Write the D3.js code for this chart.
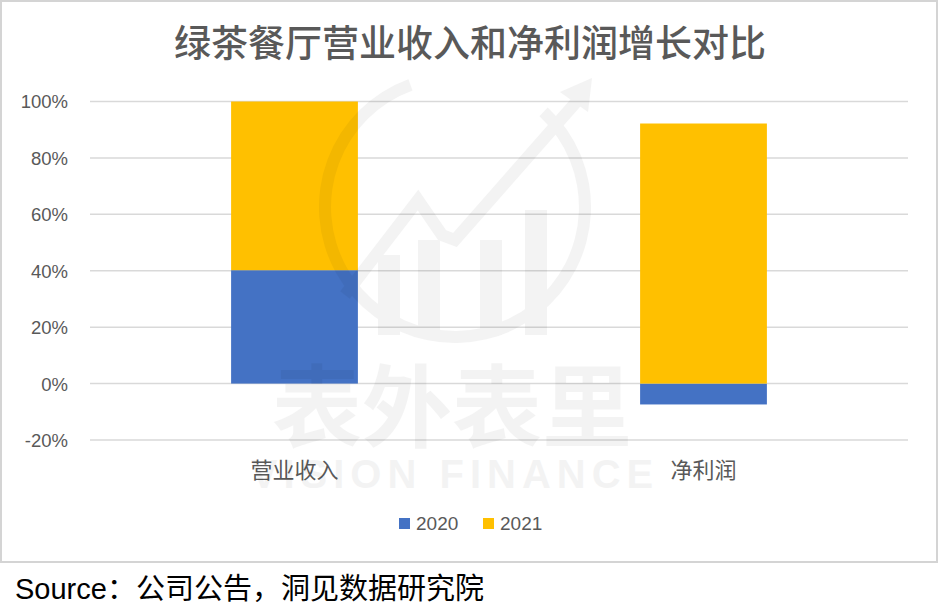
<!DOCTYPE html>
<html>
<head>
<meta charset="utf-8">
<script src="https://cdn.jsdelivr.net/npm/d3@7/dist/d3.min.js"></script>
<style>
  html, body { margin: 0; padding: 0; background: #fff; }
  svg { display: block; }
</style>
</head>
<body>
<svg id="chart" width="938" height="614"></svg>
<script>
// Categories, series and tick labels
const categories = ["营业收入", "净利润"];
const seriesNames = ["2020", "2021"];
const values2020 = [0.402, -0.074];
const values2021 = [0.598, 0.922];
const tickValues = [-0.2, 0, 0.2, 0.4, 0.6, 0.8, 1.0];
const colors = ["#4472C4", "#FFC000"];

const W = 938, H = 614;
const svg = d3.select("#chart");
const cjk = "'Noto Sans CJK SC', 'Microsoft YaHei', sans-serif";
const latin = "'Liberation Sans', Arial, 'Noto Sans CJK SC', sans-serif";

// outer chart frame
svg.append("rect")
  .attr("x", 1).attr("y", 1).attr("width", W - 2).attr("height", 561)
  .attr("fill", "#fff").attr("stroke", "#d4d4d4").attr("stroke-width", 2);

// plot scales
const x = d3.scaleBand().domain(categories).range([90, 908]).paddingInner(0.69).paddingOuter(0.345);
const y = d3.scaleLinear().domain([-0.2, 1.0]).range([440, 101.5]);

// gridlines
svg.append("g").selectAll("line").data(tickValues).join("line")
  .attr("x1", 90).attr("x2", 908)
  .attr("y1", d => y(d)).attr("y2", d => y(d))
  .attr("stroke", "#d9d9d9").attr("stroke-width", 1.5);

// y axis labels (plain hyphen for negatives)
const pct = v => Math.round(v * 100) + "%";
const yAxis = d3.axisLeft(y).tickValues(tickValues).tickSize(0).tickPadding(0).tickFormat(pct);
const gy = svg.append("g").attr("transform", "translate(68,0)").call(yAxis);
gy.select(".domain").remove();
gy.selectAll("text")
  .attr("fill", "#595959").attr("font-size", 18.5).attr("font-family", latin)
  .attr("dy", "0.35em");

// stacked data (positive and negative stacks separately)
const rows = categories.map((c, i) => ({ cat: c, "2020": values2020[i], "2021": values2021[i] }));
const stack = d3.stack().keys(seriesNames).offset(d3.stackOffsetDiverging);
const layers = stack(rows);

const gBars = svg.append("g");
layers.forEach((layer, li) => {
  gBars.selectAll(null).data(layer).join("rect")
    .attr("x", d => x(d.data.cat))
    .attr("width", x.bandwidth())
    .attr("y", d => y(Math.max(d[0], d[1])))
    .attr("height", d => Math.abs(y(d[0]) - y(d[1])))
    .attr("fill", colors[li]);
});

// category labels
const xAxis = d3.axisBottom(x).tickSize(0).tickPadding(0);
const gx = svg.append("g").attr("transform", "translate(0,470)").call(xAxis);
gx.select(".domain").remove();
gx.selectAll("text")
  .attr("fill", "#595959").attr("font-size", 22).attr("font-family", cjk)
  .attr("dy", "0.35em");

// legend
const legendItems = [
  { name: seriesNames[0], color: colors[0], x: 399 },
  { name: seriesNames[1], color: colors[1], x: 483 }
];
const lg = svg.append("g");
legendItems.forEach(it => {
  lg.append("rect").attr("x", it.x).attr("y", 518).attr("width", 11).attr("height", 11).attr("fill", it.color);
  lg.append("text").attr("x", it.x + 17).attr("y", 523.5).attr("dy", "0.35em")
    .attr("fill", "#595959").attr("font-size", 19).attr("font-family", latin).text(it.name);
});

// title
svg.append("text").attr("x", 470).attr("y", 44).attr("dy", "0.36em")
  .attr("text-anchor", "middle").attr("fill", "#595959").attr("font-weight", 500)
  .attr("font-size", 37).attr("font-family", cjk).text("绿茶餐厅营业收入和净利润增长对比");

// faint brand mark across the plot
const wm = svg.append("g").attr("opacity", 0.045).attr("fill", "#000").attr("stroke", "#000");
const cx = 455, cy = 207, r = 136;
const arc = d3.arc().innerRadius(r - 12).outerRadius(r).startAngle(0.75).endAngle(2 * Math.PI - 0.35);
wm.append("path").attr("transform", `translate(${cx},${cy})`).attr("d", arc()).attr("stroke", "none");
wm.append("polyline")
  .attr("points", "345,295 418,200 442,235 455,240 578,100")
  .attr("fill", "none").attr("stroke-width", 12);
wm.append("path").attr("d", "M560,92 L592,78 L588,112 Z").attr("stroke", "none");
[[378, 255, 22, 80], [418, 240, 22, 95], [480, 240, 22, 95], [525, 210, 22, 125]].forEach(b => {
  wm.append("rect").attr("x", b[0]).attr("y", b[1]).attr("width", b[2]).attr("height", b[3]).attr("stroke", "none");
});
wm.append("text").attr("x", 452).attr("y", 440).attr("text-anchor", "middle")
  .attr("font-size", 90).attr("font-weight", "bold").attr("font-family", cjk).attr("stroke", "none")
  .text("表外表里");
wm.append("text").attr("x", 455).attr("y", 488).attr("text-anchor", "middle")
  .attr("font-size", 40).attr("font-weight", "bold").attr("letter-spacing", 6).attr("font-family", latin).attr("stroke", "none")
  .text("VISION FINANCE");

// source note
svg.append("text").attr("x", 15).attr("y", 589).attr("dy", "0.35em")
  .attr("fill", "#000").attr("font-size", 29).attr("font-family", latin)
  .text("Source：公司公告，洞见数据研究院");
</script>
</body>
</html>
